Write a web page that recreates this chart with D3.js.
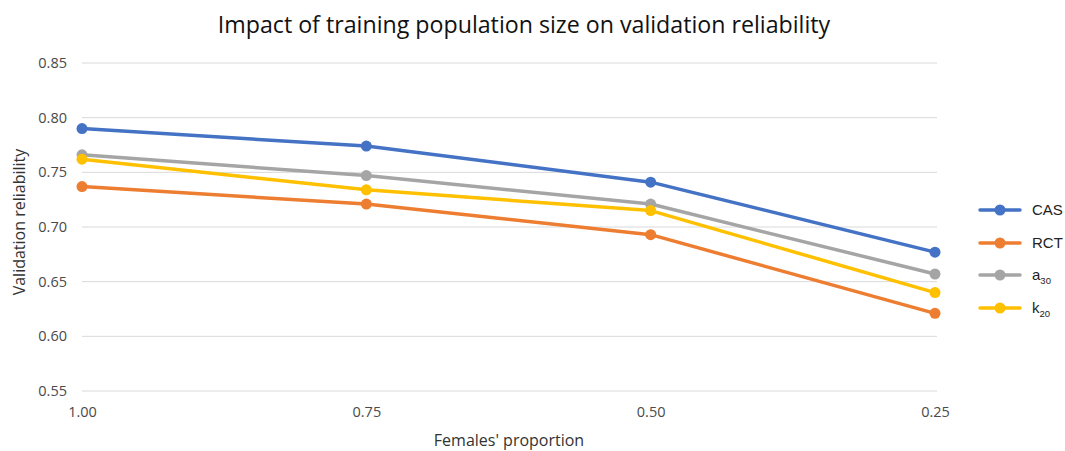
<!DOCTYPE html>
<html>
<head>
<meta charset="utf-8">
<script src="https://cdn.jsdelivr.net/npm/d3@7"></script>
<style>
  html, body { margin: 0; padding: 0; background: #ffffff; }
  svg { display: block; }
</style>
</head>
<body>
<div id="chart"></div>
<script>
// Females' proportion in the training population (x categories)
const proportions = ["1.00", "0.75", "0.50", "0.25"];

// Validation reliability per trait
const casValues = [0.790, 0.774, 0.741, 0.677];
const rctValues = [0.737, 0.721, 0.693, 0.621];
const a30Values = [0.766, 0.747, 0.721, 0.657];
const k20Values = [0.762, 0.734, 0.715, 0.640];

const yTicks = [0.55, 0.60, 0.65, 0.70, 0.75, 0.80, 0.85];

const seriesNames = ["CAS", "RCT", "a", "k"];
const seriesSubs = ["", "", "30", "20"];
const seriesColors = ["#4472C4", "#ED7D31", "#A5A5A5", "#FFC000"];
const seriesValues = [casValues, rctValues, a30Values, k20Values];

const width = 1065, height = 451;
const font = "'Open Sans', sans-serif";

const svg = d3.select("#chart").append("svg")
  .attr("width", width).attr("height", height);

const x = d3.scalePoint().domain(proportions).range([82, 935]);
const y = d3.scaleLinear().domain([0.55, 0.85]).range([391, 63]);

// Horizontal gridlines
svg.append("g").selectAll("line").data(yTicks).join("line")
  .attr("x1", 82).attr("x2", 937)
  .attr("y1", d => y(d)).attr("y2", d => y(d))
  .attr("stroke", "#d9d9d9").attr("stroke-width", 1);

// Y axis tick labels
const yAxis = d3.axisLeft(y).tickValues(yTicks).tickFormat(d3.format(".2f")).tickSize(0).tickPadding(0);
const gy = svg.append("g").attr("transform", "translate(67,0)").call(yAxis);
gy.select(".domain").remove();
gy.selectAll("text").attr("fill", "#4a4a4a")
  .style("font-family", font).style("font-size", "14.5px");

// X axis tick labels
const xAxis = d3.axisBottom(x).tickSize(0).tickPadding(0);
const gx = svg.append("g").attr("transform", "translate(0,407)").call(xAxis);
gx.select(".domain").remove();
gx.selectAll("text").attr("fill", "#4a4a4a")
  .style("font-family", font).style("font-size", "14.5px");

// Lines and markers
const line = d3.line().x((d, i) => x(proportions[i])).y(d => y(d));
seriesValues.forEach((vals, s) => {
  svg.append("path").datum(vals)
    .attr("d", line).attr("fill", "none")
    .attr("stroke", seriesColors[s]).attr("stroke-width", 3.5)
    .attr("stroke-linejoin", "round").attr("stroke-linecap", "round");
  svg.append("g").selectAll("circle").data(vals).join("circle")
    .attr("cx", (d, i) => x(proportions[i])).attr("cy", d => y(d))
    .attr("r", 5.5).attr("fill", seriesColors[s]);
});

// Title
svg.append("text").attr("x", 524).attr("y", 33).attr("text-anchor", "middle")
  .attr("fill", "#111").style("font-family", font).style("font-size", "23.2px")
  .text("Impact of training population size on validation reliability");

// Axis titles
svg.append("text").attr("transform", "translate(25,222) rotate(-90)")
  .attr("text-anchor", "middle").attr("fill", "#333")
  .style("font-family", font).style("font-size", "16px")
  .text("Validation reliability");
svg.append("text").attr("x", 509).attr("y", 446).attr("text-anchor", "middle")
  .attr("fill", "#333").style("font-family", font).style("font-size", "16px")
  .text("Females' proportion");

// Legend
const legendY = [210, 243, 275, 308];
seriesNames.forEach((name, s) => {
  const g = svg.append("g").attr("transform", `translate(980,${legendY[s]})`);
  g.append("line").attr("x1", 0).attr("x2", 40).attr("y1", 0).attr("y2", 0)
    .attr("stroke", seriesColors[s]).attr("stroke-width", 3.5).attr("stroke-linecap", "round");
  g.append("circle").attr("cx", 20).attr("cy", 0).attr("r", 5.5).attr("fill", seriesColors[s]);
  const t = g.append("text").attr("x", 52).attr("y", 5)
    .attr("fill", "#222").style("font-family", "'Liberation Sans', Arial, sans-serif").style("font-size", "15px")
    .text(name);
  if (seriesSubs[s]) {
    t.append("tspan").attr("dy", 4).style("font-size", "9.5px").text(seriesSubs[s]);
  }
});
</script>
</body>
</html>
